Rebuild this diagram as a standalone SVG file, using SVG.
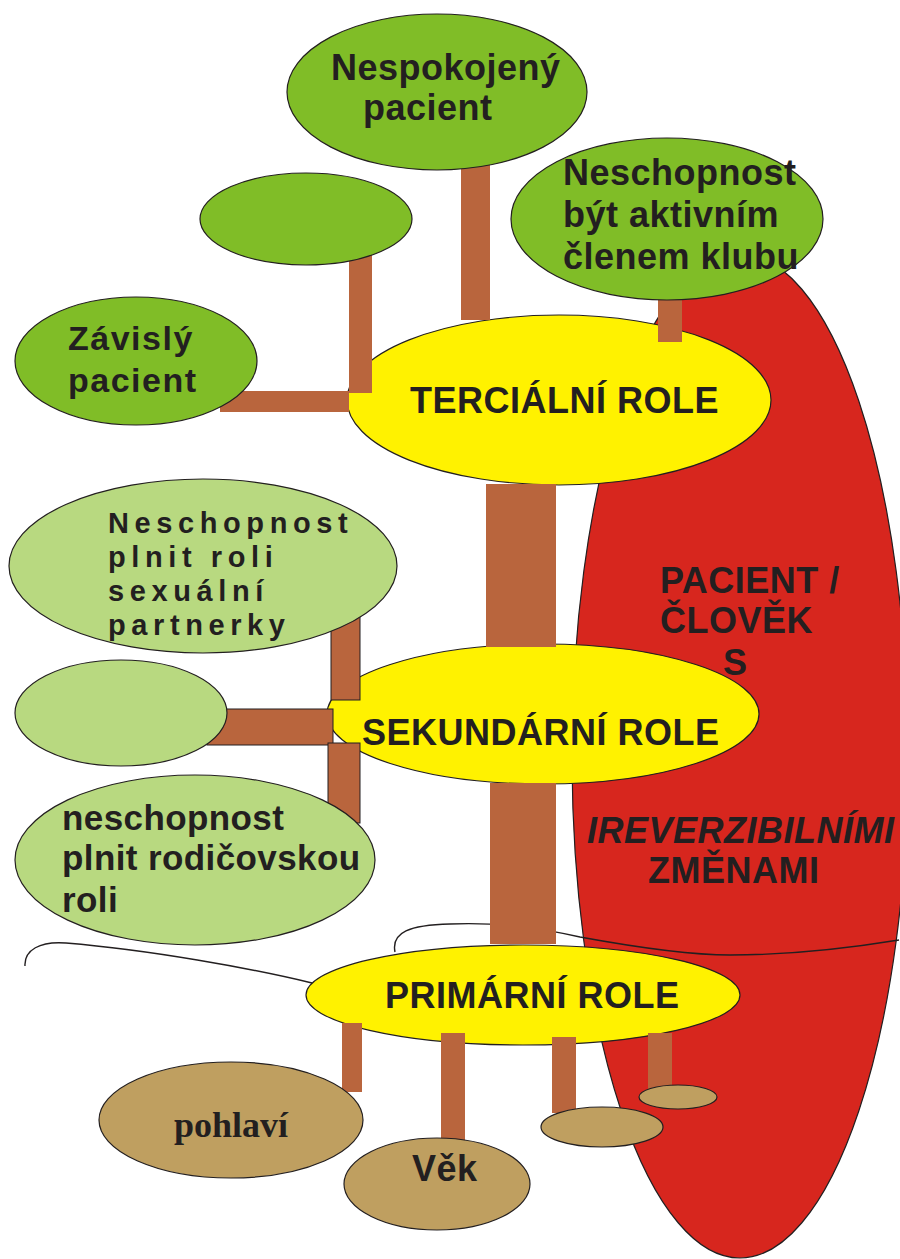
<svg xmlns="http://www.w3.org/2000/svg" width="900" height="1259" viewBox="0 0 900 1259">
<style>
.red{fill:#d7261e;stroke:#231f20;stroke-width:1.2}
.yel{fill:#fff200;stroke:#231f20;stroke-width:1.2}
.dg{fill:#80bd27;stroke:#231f20;stroke-width:1.2}
.lg{fill:#b8d980;stroke:#231f20;stroke-width:1.2}
.tan{fill:#bf9f60;stroke:#231f20;stroke-width:1.2}
.bar{fill:#b9653d}
.baro{fill:#b9653d;stroke:#231f20;stroke-width:1}
.line{fill:none;stroke:#231f20;stroke-width:1.4}
text{font-family:"Liberation Sans",Arial,sans-serif;font-weight:bold;fill:#231f20;font-size:36px;letter-spacing:0.5px}
.t34{font-size:34px;letter-spacing:1.5px}
.t30{font-size:29px;letter-spacing:5.6px}
.t35{font-size:35px;letter-spacing:0.4px}
.ser{font-family:"Liberation Serif","Times New Roman",serif;font-size:36px;letter-spacing:0}
.it{font-style:italic}
</style>

<g id="patient">
<ellipse class="red" cx="740" cy="756" rx="168" ry="502"/>
<text x="660" y="593">PACIENT /</text>
<text x="660" y="633">ČLOVĚK</text>
<text x="723" y="675">S</text>
<text class="it" x="587" y="843">IREVERZIBILNÍMI</text>
<text x="648" y="883">ZMĚNAMI</text>
</g>

<g id="ground">
<path class="line" d="M25,966 C24,950 40,941 66,943 C150,950 250,968 312,983"/>
<path class="line" d="M395,952 C391,932 410,925 450,924 C500,922 540,928 580,937 C640,948 690,955 730,955 C790,955 850,948 899,940"/>
</g>

<g id="tercialni">
<ellipse class="yel" cx="559" cy="400" rx="212" ry="85"/>
<text x="410" y="413">TERCIÁLNÍ ROLE</text>
</g>
<g id="sekundarni">
<ellipse class="yel" cx="543" cy="714" rx="216" ry="70"/>
<text x="362" y="745">SEKUNDÁRNÍ ROLE</text>
</g>
<g id="primarni">
<ellipse class="yel" cx="523" cy="995" rx="217" ry="50"/>
<text x="385" y="1008">PRIMÁRNÍ ROLE</text>
</g>

<g id="connectors">
<rect class="bar" x="461" y="161" width="29" height="159"/>
<rect class="bar" x="349" y="255" width="23" height="138"/>
<rect class="bar" x="220" y="391" width="129" height="21"/>
<rect class="bar" x="658" y="298" width="24" height="44"/>
<rect class="bar" x="486" y="484" width="70" height="163"/>
<rect class="baro" x="331" y="615" width="29" height="85"/>
<rect class="baro" x="207" y="709" width="126" height="36"/>
<rect class="baro" x="328" y="743" width="32" height="80"/>
<rect class="bar" x="490" y="783" width="66" height="161"/>
<rect class="bar" x="342" y="1023" width="20" height="69"/>
<rect class="bar" x="441" y="1033" width="24" height="108"/>
<rect class="bar" x="552" y="1037" width="24" height="76"/>
<rect class="bar" x="648" y="1033" width="24" height="56"/>
</g>

<g id="nespokojeny">
<ellipse class="dg" cx="437" cy="92" rx="150" ry="78"/>
<text x="331" y="80">Nespokojený</text>
<text x="363" y="120">pacient</text>
</g>
<g id="klub">
<ellipse class="dg" cx="667" cy="219" rx="156" ry="81"/>
<text x="563" y="185">Neschopnost</text>
<text x="563" y="227">být aktivním</text>
<text x="563" y="269">členem klubu</text>
</g>
<g id="prazdny-horni">
<ellipse class="dg" cx="306" cy="219" rx="106" ry="46"/>
</g>
<g id="zavisly">
<ellipse class="dg" cx="136" cy="361" rx="121" ry="64"/>
<text class="t34" x="68" y="350">Závislý</text>
<text class="t34" x="68" y="392">pacient</text>
</g>
<g id="sexualni">
<ellipse class="lg" cx="203" cy="566" rx="194" ry="87"/>
<text class="t30" x="108" y="533">Neschopnost</text>
<text class="t30" x="108" y="567">plnit roli</text>
<text class="t30" x="108" y="601">sexuální</text>
<text class="t30" x="108" y="635">partnerky</text>
</g>
<g id="prazdny-stredni">
<ellipse class="lg" cx="121" cy="713" rx="106" ry="53"/>
</g>
<g id="rodicovska">
<ellipse class="lg" cx="195" cy="860" rx="180" ry="85"/>
<text class="t35" x="62" y="830">neschopnost</text>
<text class="t35" x="62" y="870">plnit rodičovskou</text>
<text class="t35" x="62" y="912">roli</text>
</g>
<g id="pohlavi">
<ellipse class="tan" cx="231" cy="1120" rx="132" ry="58"/>
<text class="ser" x="174" y="1137">pohlaví</text>
</g>
<g id="vek">
<ellipse class="tan" cx="437" cy="1184" rx="93" ry="46"/>
<text x="412" y="1181">Věk</text>
</g>
<g id="maly-1">
<ellipse class="tan" cx="602" cy="1127" rx="61" ry="20"/>
</g>
<g id="maly-2">
<ellipse class="tan" cx="678" cy="1097" rx="39" ry="12"/>
</g>
</svg>
